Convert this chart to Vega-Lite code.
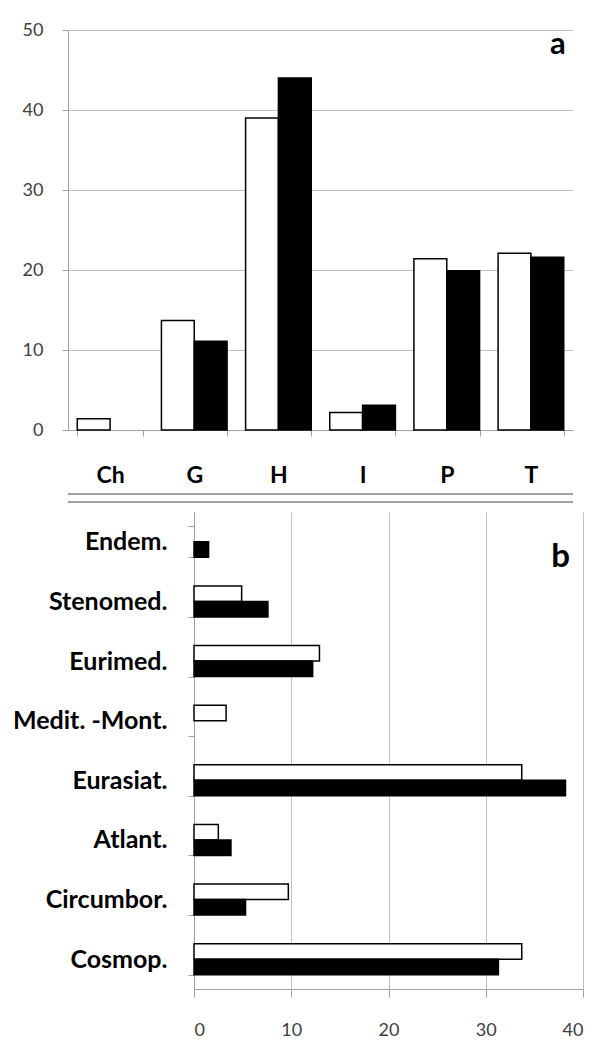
{
  "$schema": "https://vega.github.io/schema/vega-lite/v6.json",
  "padding": {"top": 21, "left": 0, "right": 0, "bottom": 0},
  "background": "white",
  "spacing": -3,
  "config": {"view": {"stroke": null}, "font": "Lato"},
  "datasets": {
    "a": [
      {"cat": "Ch", "s": "w", "v": 1.4},
      {"cat": "G", "s": "w", "v": 13.7},
      {"cat": "G", "s": "b", "v": 11.1},
      {"cat": "H", "s": "w", "v": 39.0},
      {"cat": "H", "s": "b", "v": 44.0},
      {"cat": "I", "s": "w", "v": 2.2},
      {"cat": "I", "s": "b", "v": 3.1},
      {"cat": "P", "s": "w", "v": 21.4},
      {"cat": "P", "s": "b", "v": 19.9},
      {"cat": "T", "s": "w", "v": 22.1},
      {"cat": "T", "s": "b", "v": 21.6}
    ],
    "b": [
      {"cat": "Endem.", "s": "b", "v": 1.5},
      {"cat": "Stenomed.", "s": "w", "v": 4.9},
      {"cat": "Stenomed.", "s": "b", "v": 7.6},
      {"cat": "Eurimed.", "s": "w", "v": 12.9},
      {"cat": "Eurimed.", "s": "b", "v": 12.2},
      {"cat": "Medit. -Mont.", "s": "w", "v": 3.3},
      {"cat": "Eurasiat.", "s": "w", "v": 33.7},
      {"cat": "Eurasiat.", "s": "b", "v": 38.2},
      {"cat": "Atlant.", "s": "w", "v": 2.5},
      {"cat": "Atlant.", "s": "b", "v": 3.8},
      {"cat": "Circumbor.", "s": "w", "v": 9.7},
      {"cat": "Circumbor.", "s": "b", "v": 5.3},
      {"cat": "Cosmop.", "s": "w", "v": 33.7},
      {"cat": "Cosmop.", "s": "b", "v": 31.3}
    ]
  },
  "vconcat": [
    {
      "width": 505,
      "height": 400,
      "layer": [
        {
          "data": {"name": "a"},
          "mark": {"type": "bar", "stroke": "black", "strokeWidth": 1.5},
          "encoding": {
            "x": {
              "field": "cat", "type": "nominal",
              "scale": {"domain": ["Ch", "G", "H", "I", "P", "T"], "paddingInner": 0.22, "paddingOuter": 0.11},
              "axis": {
                "title": null, "labelAngle": 0, "labelFontSize": 23, "labelFontWeight": "bold",
                "labelColor": "black", "domainColor": "#a0a0a0", "tickColor": "#a0a0a0",
                "tickSize": 6, "tickBand": "extent", "labelPadding": 28, "grid": false
              }
            },
            "xOffset": {"field": "s", "type": "nominal", "scale": {"domain": ["w", "b"]}},
            "y": {
              "field": "v", "type": "quantitative",
              "scale": {"domain": [0, 50]},
              "axis": {
                "title": null, "values": [0, 10, 20, 30, 40, 50], "labelFontSize": 18,
                "labelColor": "#404040", "gridColor": "#c0c0c0", "domainColor": "#a0a0a0",
                "tickColor": "#a0a0a0", "tickSize": 6, "labelPadding": 19, "minExtent": 68
              }
            },
            "fill": {"field": "s", "type": "nominal", "scale": {"domain": ["w", "b"], "range": ["white", "black"]}, "legend": null}
          }
        },
        {
          "data": {"values": [{"t": "a"}]},
          "mark": {"type": "text", "fontSize": 31, "fontWeight": "bold", "baseline": "alphabetic", "dx": 27, "color": "black"},
          "encoding": {"x": {"datum": "T"}, "y": {"datum": 47}, "text": {"field": "t"}}
        },
        {
          "data": {"values": [{"r": -8}, {"r": -9}]},
          "mark": {"type": "rule", "color": "#808080", "strokeWidth": 1.5},
          "encoding": {"y": {"field": "r", "type": "quantitative"}}
        }
      ]
    },
    {
      "width": 515,
      "height": 477,
      "layer": [
        {
          "data": {"name": "b"},
          "mark": {"type": "bar", "stroke": "black", "strokeWidth": 1.5},
          "encoding": {
            "y": {
              "field": "cat", "type": "nominal",
              "scale": {"domain": ["Endem.", "Stenomed.", "Eurimed.", "Medit. -Mont.", "Eurasiat.", "Atlant.", "Circumbor.", "Cosmop."], "paddingInner": 0.48, "paddingOuter": 0.24},
              "axis": {
                "title": null, "labelFontSize": 25, "labelFontWeight": "bold", "labelColor": "black",
                "domainColor": "#a0a0a0", "tickColor": "#a0a0a0", "tickSize": 6, "tickBand": "extent",
                "labelPadding": 21, "offset": -126, "grid": false
              }
            },
            "yOffset": {"field": "s", "type": "nominal", "scale": {"domain": ["w", "b"]}},
            "x": {
              "field": "v", "type": "quantitative",
              "scale": {"domain": [0, 40], "range": [126, 515]},
              "axis": {
                "title": null, "values": [0, 10, 20, 30, 40], "labelFontSize": 18,
                "labelColor": "#404040", "gridColor": "#c0c0c0", "domainColor": "#a0a0a0",
                "tickColor": "#a0a0a0", "tickSize": 8, "labelPadding": 24
              }
            },
            "fill": {"field": "s", "type": "nominal", "scale": {"domain": ["w", "b"], "range": ["white", "black"]}, "legend": null}
          }
        },
        {
          "data": {"values": [{"t": "b"}]},
          "mark": {"type": "text", "fontSize": 33, "fontWeight": "bold", "baseline": "alphabetic", "dy": 25, "color": "black"},
          "encoding": {"x": {"datum": 37.7}, "y": {"datum": "Endem."}, "text": {"field": "t"}}
        }
      ]
    }
  ]
}
